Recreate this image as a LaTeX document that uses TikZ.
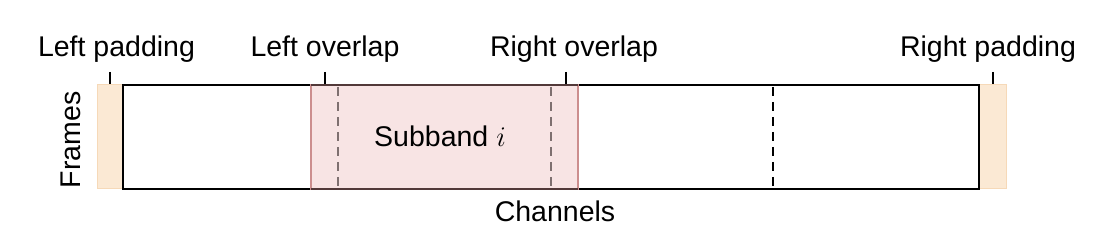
\documentclass[tikz,border=0pt]{standalone}
\usepackage{fix-cm}
\usepackage{fontspec}
\setmainfont{Liberation Sans}
\begin{document}
\begin{tikzpicture}[x=1pt,y=-1pt,
  lbl/.style={anchor=base,inner sep=0pt,font=\fontsize{28.5}{34}\selectfont},
  padbox/.style={fill=padfill,draw=padline,line width=1pt},
  tick/.style={line width=2.3pt},
  greydash/.style={draw=dashgrey,line width=2.4pt,dash pattern=on 9pt off 6pt},
  blackdash/.style={draw=black,line width=2.5pt,dash pattern=on 9pt off 6pt}]
\definecolor{padfill}{HTML}{FBE9D4}
\definecolor{padline}{HTML}{F6D9B8}
\definecolor{subfill}{HTML}{F8E4E4}
\definecolor{subline}{HTML}{CC8E8E}
\definecolor{dashgrey}{HTML}{7F7070}
\useasboundingbox (0,0) rectangle (1112,237);
% paddings
\path[padbox] (97,85) rectangle (123,189);
\path[padbox] (979,85) rectangle (1006,189);
% main rectangle
\draw[line width=2.5pt] (123,85) rectangle (979,189);
\draw[blackdash] (773,87) -- (773,187);
% subband
\path[fill=subfill,draw=subline,line width=2.2pt] (311,85) rectangle (578,189);
\draw[line width=1.4pt,draw=black!60!subline] (311,85) -- (578,85) (311,189) -- (578,189);
\draw[greydash] (338,87) -- (338,187);
\draw[greydash] (551,87) -- (551,187);
\node[lbl] (sub) at (440,147) {Subband $i$};
% labels
\node[lbl] (lp) at (116.5,57) {Left padding};
\node[lbl] (lo) at (325,57) {Left overlap};
\node[lbl] (ro) at (574,57) {Right overlap};
\node[lbl] (rp) at (988,57) {Right padding};
\node[lbl,rotate=90,anchor=center] (fr) at (71,140) {Frames};
\node[lbl] (ch) at (555,222) {Channels};
% ticks
\coordinate (t1a) at (110,72); \coordinate (t1b) at (110,84);
\coordinate (t2a) at (325,72); \coordinate (t2b) at (325,84);
\coordinate (t3a) at (566,72); \coordinate (t3b) at (566,84);
\coordinate (t4a) at (993,72); \coordinate (t4b) at (993,84);
\draw[tick] (t1a) -- (t1b);
\draw[tick] (t2a) -- (t2b);
\draw[tick] (t3a) -- (t3b);
\draw[tick] (t4a) -- (t4b);
\end{tikzpicture}
\end{document}
